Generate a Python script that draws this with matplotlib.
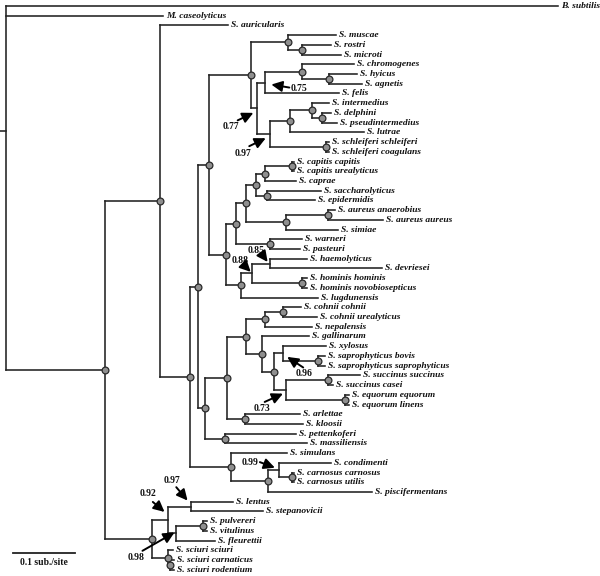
import matplotlib
matplotlib.use("Agg")
import matplotlib.pyplot as plt
from matplotlib import transforms
from matplotlib.collections import LineCollection

# ---------------- data: tree (branch lengths in substitutions/site) ----------------
MU = "(S._muscae:0.078,(S._rostri:0.047,S._microti:0.063)RM:0.023)Mu:0.060"
N075 = "((S._chromogenes:0.085,(S._hyicus:0.045,S._agnetis:0.053)HA:0.045)Ch:0.059,S._felis:0.120)n075:0.014"
N097 = ("(((S._intermedius:0.028,(S._delphini:0.015,S._pseudintermedius:0.025)DP:0.016)IG:0.036,"
        "S._lutrae:0.120)IL:0.032,(S._schleiferi_schleiferi:0.005,S._schleiferi_coagulans:0.005)Sch:0.090)n097:0.022")
T = f"({MU},({N075},{N097})n077:0.009)T:0.068"
N8 = ("(((S._capitis_capitis:0.004,S._capitis_urealyticus:0.004)Cap:0.043,S._caprae:0.049)CC:0.015,"
      "(S._saccharolyticus:0.089,S._epidermidis:0.078)SE:0.017)N8:0.017")
AS = "((S._aureus_anaerobius:0.011,S._aureus_aureus:0.089)Au:0.069,S._simiae:0.085)AS:0.065"
N6 = f"(({N8},{AS})N7:0.016,(S._warneri:0.053,S._pasteuri:0.049)WP:0.055)N6:0.016"
HL = ("(((S._haemolyticus:0.061,S._devriesei:0.182)n085:0.029,"
      "(S._hominis_hominis:0.008,S._hominis_novobiosepticus:0.008)Ho:0.081)n088:0.018,S._lugdunensis:0.126)HL:0.024")
N4 = f"({T},({N6},{HL})N5:0.027)N4:0.018"
CN = "((S._cohnii_cohnii:0.030,S._cohnii_urealyticus:0.055)Co:0.028,S._nepalensis:0.076)CN:0.032"
N096 = "(S._xylosus:0.069,(S._saprophyticus_bovis:0.011,S._saprophyticus_saprophyticus:0.011)Sap:0.057)n096:0.015"
N073 = ("((S._succinus_succinus:0.051,S._succinus_casei:0.008)Su:0.069,"
        "(S._equorum_equorum:0.007,S._equorum_linens:0.007)Eq:0.096)n073:0.019")
G = f"(S._gallinarum:0.075,({N096},{N073})XS:0.019)G:0.027"
N9 = (f"((({CN},{G})A:0.030,(S._arlettae:0.090,S._kloosii:0.094)AK:0.029)N10:0.035,"
      "(S._pettenkoferi:0.116,S._massiliensis:0.133)PM:0.031)N9:0.012")
SIM = ("(S._simulans:0.090,((S._condimenti:0.085,(S._carnosus_carnosus:0.004,S._carnosus_utilis:0.004)Car:0.021)n099:0.017,"
       "S._piscifermentans:0.168)n268:0.060)Sim:0.067")
N1 = f"(S._auricularis:0.110,(({N4},{N9})N3:0.013,{SIM})N2:0.049)N1:0.089"
SC = ("(((S._lentus:0.067,S._stepanovicii:0.116)n097b:0.038,((S._pulvereri:0.006,S._vitulinus:0.006)PV:0.043,"
      "S._fleurettii:0.062)n098:0.014)n092:0.026,(S._sciuri_sciuri:0.008,"
      "(S._sciuri_carnaticus:0.006,S._sciuri_rodentium:0.006)CR:0.004)SciN:0.026)Sc:0.076")
NEWICK = f"(B._subtilis:0.895,M._caseolyticus:0.254,({N1},{SC})S:0.160)R:0.010;"

# support values (posterior) at un-circled nodes
SUPPORT_NODES = ["n077", "n097", "n075", "n085", "n088", "n096", "n073", "n099", "n097b", "n092", "n098"]
SUPPORT_VALUES = ["0.77", "0.97", "0.75", "0.85", "0.88", "0.96", "0.73", "0.99", "0.97", "0.92", "0.98"]
# layout offsets in pixels relative to node: (text dx, dy), (tail dx, dy), (tip dx, dy)
SUPPORT_TEXT = [(-26, 18.5), (-27, 19), (34, 6), (-14, -13), (-12, -12.5), (21, 20), (-24, 19), (-29, -8), (-19, -26), (-20, -26), (-40, 24)]
SUPPORT_TAIL = [(-19, 12), (-21, 12), (24, 5), (-7.6, -9.3), (-7.7, -8.1), (20, 14), (-21, 12), (-19, -8), (-15, -19.4), (-15, -18), (-34, 17.5)]
SUPPORT_TIP = [(-3.3, 4.5), (-4.5, 4), (6, 2), (-2, -1.6), (-1, -1.4), (4, 3.4), (-2.7, 3.7), (-4, -2.4), (-3.7, -6), (-3.3, -8), (-2, -0.8)]

SCALE_LEN = 0.1
SCALE_LABEL = "0.1 sub./site"


# ---------------- parse ----------------
def parse(s):
    pos = 0

    def node():
        nonlocal pos
        children = []
        if s[pos] == "(":
            pos += 1
            while True:
                children.append(node())
                if s[pos] == ",":
                    pos += 1
                    continue
                if s[pos] == ")":
                    pos += 1
                    break
                raise ValueError("bad newick at %d" % pos)
        start = pos
        while pos < len(s) and s[pos] not in ":,();":
            pos += 1
        name = s[start:pos]
        length = 0.0
        if pos < len(s) and s[pos] == ":":
            pos += 1
            start = pos
            while pos < len(s) and s[pos] not in ",();":
                pos += 1
            length = float(s[start:pos])
        return {"name": name, "len": length, "children": children}

    return node()


tree = parse(NEWICK)
tips = []


def layout(nd, parent_x):
    nd["px"] = parent_x
    nd["x"] = parent_x + nd["len"]
    for c in nd["children"]:
        layout(c, nd["x"])
    if not nd["children"]:
        nd["y"] = len(tips)
        tips.append(nd)
    else:
        nd["y"] = sum(c["y"] for c in nd["children"]) / len(nd["children"])


layout(tree, 0.0)

nodes = {}
allnodes = []


def collect(nd):
    allnodes.append(nd)
    nodes[nd["name"]] = nd
    for c in nd["children"]:
        collect(c)


collect(tree)

# ---------------- draw ----------------
W, H = 600, 576
PX_PER_SUB = 617.0
PX_PER_TIP = 9.72
TOP_PX = 6.0

fig = plt.figure(figsize=(W / 100, H / 100), dpi=100)
ax = fig.add_axes([0, 0, 1, 1])
ax.set_xlim(0, W / PX_PER_SUB)
ax.set_ylim((H - TOP_PX) / PX_PER_TIP, -TOP_PX / PX_PER_TIP)
ax.axis("off")

LC = "#222222"
segs = []
for nd in allnodes:
    segs.append([(nd["px"], nd["y"]), (nd["x"], nd["y"])])
    if nd["children"]:
        ys = [c["y"] for c in nd["children"]]
        segs.append([(nd["x"], min(ys)), (nd["x"], max(ys))])
ax.add_collection(LineCollection(segs, colors=LC, linewidths=1.15, capstyle="projecting", zorder=2))

circ = [nd for nd in allnodes if nd["children"] and nd["name"] not in SUPPORT_NODES and nd["name"] != "R"]
ax.scatter([n["x"] for n in circ], [n["y"] for n in circ], s=24, facecolor="#8f8f8f",
           edgecolor="#2a2a2a", linewidths=0.9, zorder=3)

label_font = dict(family="Liberation Serif", weight="bold", style="italic", size=6.8)
off = transforms.offset_copy(ax.transData, fig=fig, x=3, y=0, units="dots")
for t in tips:
    ax.text(t["x"], t["y"], t["name"].replace("_", " "), transform=off, ha="left", va="center",
            color="#111111", **label_font)

num_font = dict(family="Liberation Serif", weight="bold", size=6.9)


def px2data(nd, d):
    return nd["x"] + d[0] / PX_PER_SUB, nd["y"] + d[1] / PX_PER_TIP


for name, val, tx, ta, tp in zip(SUPPORT_NODES, SUPPORT_VALUES, SUPPORT_TEXT, SUPPORT_TAIL, SUPPORT_TIP):
    nd = nodes[name]
    ax.annotate("", xy=px2data(nd, tp), xytext=px2data(nd, ta),
                arrowprops=dict(arrowstyle="-|>,head_length=0.65,head_width=0.32", color="black",
                                lw=1.4, shrinkA=0, shrinkB=0), zorder=4)
    ax.text(*px2data(nd, tx), val, ha="center", va="center", color="#111111", **num_font)

# scale bar
sx = 13.3 / PX_PER_SUB
sy = (552.7 - TOP_PX) / PX_PER_TIP
ax.plot([sx, sx + SCALE_LEN], [sy, sy], color=LC, lw=1.3)
ax.text(sx + SCALE_LEN / 2, sy + 9.6 / PX_PER_TIP, SCALE_LABEL, ha="center", va="center",
        color="#111111", **num_font)

fig.savefig("out.png", dpi=100, facecolor="white")
